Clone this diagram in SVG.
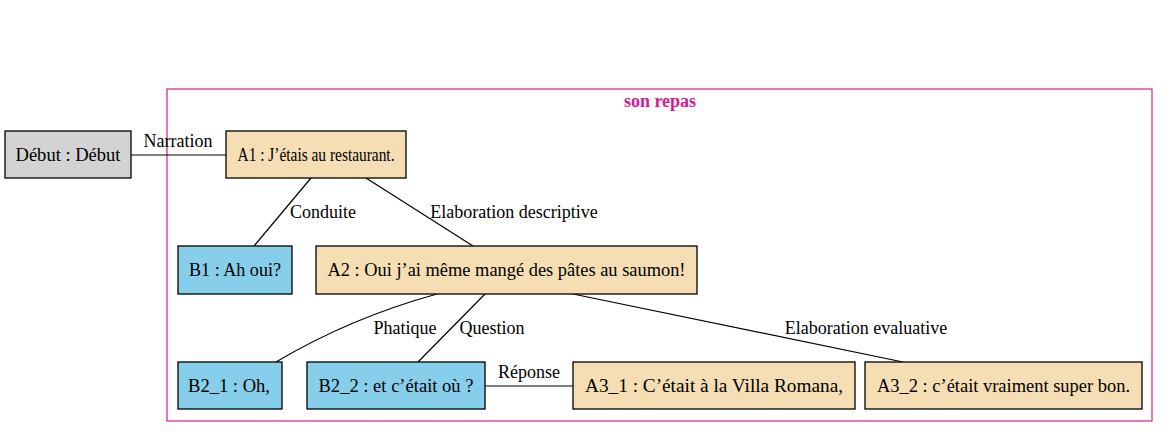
<svg xmlns="http://www.w3.org/2000/svg" width="1169" height="437" viewBox="0 0 1169 437">
<style>
text{font-family:"Liberation Serif","Times New Roman","DejaVu Serif",serif;font-size:18px;fill:#000}
.n rect{stroke:#000;stroke-width:1.3}
.n text{text-anchor:middle}
.wheat{fill:#f5deb3}
.sky{fill:#87ceeb}
.gray{fill:#d3d3d3}
.e path{fill:none;stroke:#000;stroke-width:1.2}
.lbl{text-anchor:middle}
.title{font-weight:bold;fill:#d0208f;text-anchor:middle}
</style>
<rect width="1169" height="437" fill="#fff"/>
<g id="cluster_son_repas">
<rect x="167" y="89" width="985" height="332" fill="none" stroke="#d0208f" stroke-width="1.2"/>
<text class="title" x="660" y="107">son repas</text>
</g>
<g id="edges" class="e">
<path d="M131,155 L226,155"/>
<path d="M311,178 L254,246"/>
<path d="M366,178 L473,246"/>
<path d="M437,294 Q350,318 276,362"/>
<path d="M485,294 L418,362"/>
<path d="M573,294 L903,362"/>
<path d="M485,386 L573,386"/>
<text class="lbl" x="178" y="147">Narration</text>
<text class="lbl" x="323" y="218">Conduite</text>
<text class="lbl" x="514" y="218">Elaboration descriptive</text>
<text class="lbl" x="405" y="334">Phatique</text>
<text class="lbl" x="492" y="334">Question</text>
<text class="lbl" x="866" y="334">Elaboration evaluative</text>
<text class="lbl" x="529" y="378">Réponse</text>
</g>
<g id="Debut" class="n"><rect class="gray" x="5" y="131" width="126" height="47"/><text x="68" y="161" textLength="105" lengthAdjust="spacingAndGlyphs">Début : Début</text></g>
<g id="A1" class="n"><rect class="wheat" x="226" y="131" width="180" height="47"/><text x="316" y="161" textLength="157" lengthAdjust="spacingAndGlyphs">A1 : J’étais au restaurant.</text></g>
<g id="B1" class="n"><rect class="sky" x="178" y="246" width="114" height="48"/><text x="235" y="276" textLength="92" lengthAdjust="spacingAndGlyphs">B1 : Ah oui?</text></g>
<g id="A2" class="n"><rect class="wheat" x="316" y="246" width="381" height="48"/><text x="506.5" y="276" textLength="358" lengthAdjust="spacingAndGlyphs">A2 : Oui j’ai même mangé des pâtes au saumon!</text></g>
<g id="B2_1" class="n"><rect class="sky" x="178" y="362" width="104" height="47"/><text x="229" y="392" textLength="82" lengthAdjust="spacingAndGlyphs">B2_1 : Oh,</text></g>
<g id="B2_2" class="n"><rect class="sky" x="307" y="362" width="178" height="47"/><text x="396" y="392" textLength="155" lengthAdjust="spacingAndGlyphs">B2_2 : et c’était où ?</text></g>
<g id="A3_1" class="n"><rect class="wheat" x="573" y="362" width="282" height="47"/><text x="714" y="392" textLength="258" lengthAdjust="spacingAndGlyphs">A3_1 : C’était à la Villa Romana,</text></g>
<g id="A3_2" class="n"><rect class="wheat" x="865" y="362" width="277" height="47"/><text x="1003.5" y="392" textLength="253" lengthAdjust="spacingAndGlyphs">A3_2 : c’était vraiment super bon.</text></g>
</svg>
